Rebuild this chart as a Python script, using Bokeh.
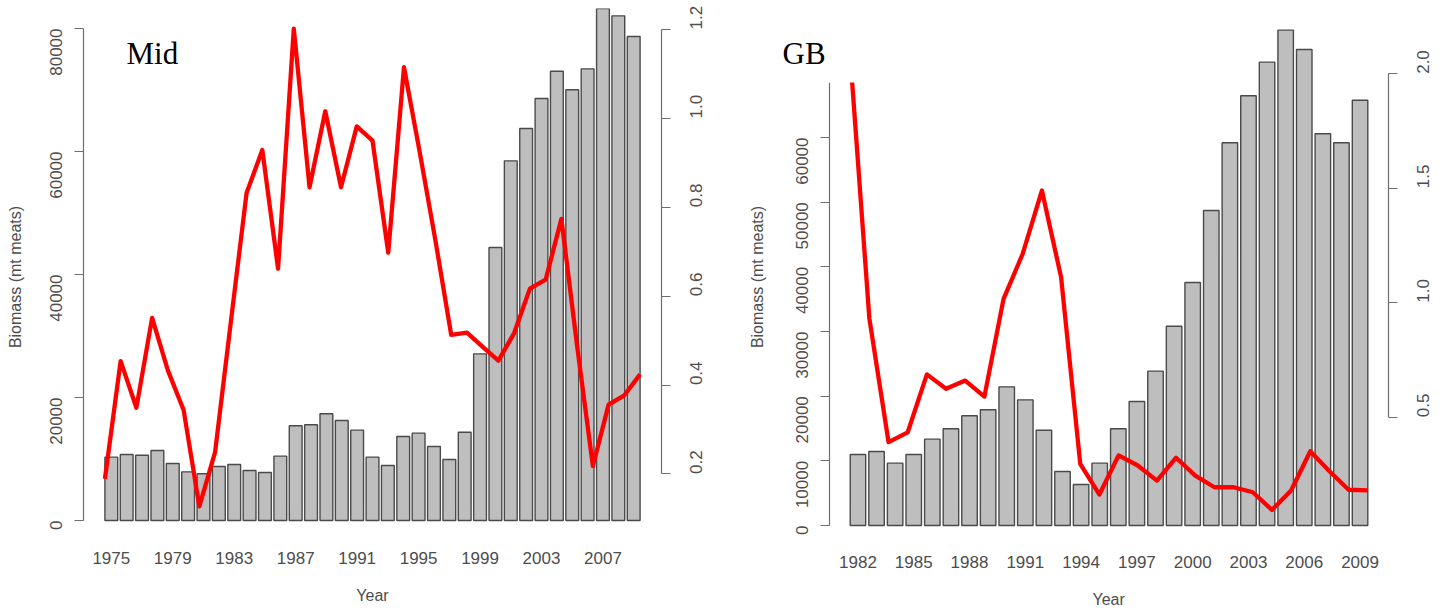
import math
from bokeh.plotting import figure
from bokeh.models import (Range1d, LinearAxis, FixedTicker, Label, BoxAnnotation,
                          PrintfTickFormatter, Title)
from bokeh.layouts import row
from bokeh.embed import file_html
from bokeh.resources import INLINE

# ---------------- data ----------------
mid_years = list(range(1975, 2010))
mid_biomass = [10300, 10730, 10620, 11380, 9270, 7910, 7590, 8780, 9100, 8130,
               7800, 10460, 15400, 15560, 17350, 16260, 14690, 10300, 8940, 13660,
               14200, 12030, 9920, 14360, 27100, 44390, 58480, 63740, 68620, 73060,
               70030, 73440, 83300, 82060, 78700]
mid_ratio = [0.189, 0.454, 0.349, 0.551, 0.433, 0.344, 0.127, 0.249, 0.542, 0.832,
             0.929, 0.662, 1.202, 0.845, 1.016, 0.845, 0.982, 0.950, 0.698, 1.115,
             0.924, 0.725, 0.513, 0.518, 0.486, 0.455, 0.517, 0.617, 0.637, 0.774,
             0.488, 0.218, 0.356, 0.377, 0.424]
mid_year_ticks = list(range(1975, 2010, 4))
mid_biomass_ticks = [0, 20000, 40000, 60000, 80000]
mid_ratio_ticks = [0.2, 0.4, 0.6, 0.8, 1.0, 1.2]

gb_years = list(range(1982, 2010))
gb_biomass = [10980, 11440, 9640, 10980, 13350, 14950, 16960, 17890, 21440, 19430,
              14740, 8350, 6340, 9640, 14950, 19170, 23870, 30820, 37580, 48710,
              59180, 66450, 71650, 76600, 73610, 60570, 59180, 65770]
gb_ratio = [2.08, 0.931, 0.391, 0.434, 0.687, 0.624, 0.660, 0.590, 1.017, 1.214,
            1.490, 1.112, 0.296, 0.162, 0.333, 0.289, 0.223, 0.323, 0.245, 0.194,
            0.194, 0.172, 0.095, 0.180, 0.351, 0.264, 0.183, 0.180]
gb_year_ticks = list(range(1982, 2010, 3))
gb_biomass_ticks = [0, 10000, 20000, 30000, 40000, 50000, 60000]
gb_ratio_ticks = [0.5, 1.0, 1.5, 2.0]
GB_CROP = 68500      # the GB panel is cropped at this biomass level (top-left)

# ---------------- style ----------------
TXT = "#4d4d4d"
AX = "#6e6e6e"
SANS = "Liberation Sans"
SERIF = "Liberation Serif"
BAR_W = 1 / 1.2  # R barplot: width 1, space 0.2
YTITLE = "Biomass (mt meats)"
XTITLE = "Year"


def bar_limits(years):
    n = len(years)
    span = n * 1.2 - 0.2
    pad = 0.04 * span
    return (years[0] + (0.2 - pad - 0.7) / 1.2,
            years[0] + (span + pad - 0.5) / 1.2)


def line_limits(years):
    d = 0.04 * (years[-1] - years[0])
    return (years[0] - d, years[-1] + d)


def widen_left(lims, plot_w, extra_w):
    lo, hi = lims
    return Range1d(lo - (hi - lo) * extra_w / plot_w, hi)


def style_axis(ax):
    ax.axis_line_color = AX
    ax.axis_line_width = 1.2
    ax.major_tick_line_color = AX
    ax.major_tick_line_width = 1.2
    ax.major_tick_out = 9
    ax.major_tick_in = 0
    ax.minor_tick_line_color = None
    ax.major_label_text_font = SANS
    ax.major_label_text_font_size = "17px"
    ax.major_label_text_color = TXT
    ax.axis_label_text_font = SANS
    ax.axis_label_text_font_size = "16px"
    ax.axis_label_text_font_style = "normal"
    ax.axis_label_text_color = TXT


def panel(years, biomass, ratio, year_ticks, bio_ticks, bio_top, ratio_ticks,
          bio_rng, ratio_rng, plot_w, extra_left, border_l, border_r,
          x_standoff, title, title_x):
    blims = bar_limits(years)
    p = figure(frame_width=plot_w + extra_left, frame_height=537,
               x_range=widen_left(blims, plot_w, extra_left),
               y_range=Range1d(*bio_rng),
               output_backend="svg", toolbar_location=None,
               min_border_left=border_l, min_border_right=border_r,
               min_border_top=8, min_border_bottom=20)
    p.outline_line_color = None
    p.xgrid.visible = False
    p.ygrid.visible = False
    p.background_fill_color = "white"
    p.border_fill_color = "white"

    p.extra_x_ranges = {"line": widen_left(line_limits(years), plot_w, extra_left)}
    p.extra_y_ranges = {"ratio": Range1d(*ratio_rng)}

    p.vbar(x=years, top=biomass, bottom=0, width=BAR_W,
           fill_color="#bebebe", line_color="#4a4a4a", line_width=1.4)
    p.line(x=years, y=ratio, x_range_name="line", y_range_name="ratio",
           line_color="#ff0000", line_width=4.3, line_join="round")

    # left axis
    ya = p.yaxis[0]
    style_axis(ya)
    ya.ticker = FixedTicker(ticks=bio_ticks)
    ya.bounds = (0, bio_top)
    ya.major_label_orientation = math.pi / 2
    ya.major_label_standoff = 18

    # right axis
    ra = LinearAxis(y_range_name="ratio", ticker=FixedTicker(ticks=ratio_ticks),
                    formatter=PrintfTickFormatter(format="%.1f"))
    style_axis(ra)
    ra.bounds = (ratio_ticks[0], ratio_ticks[-1])
    ra.major_label_orientation = math.pi / 2
    ra.major_label_standoff = 26
    p.add_layout(ra, "right")

    # bottom axis (labels only)
    xa = p.xaxis[0]
    style_axis(xa)
    xa.ticker = FixedTicker(ticks=year_ticks)
    xa.axis_line_color = None
    xa.major_tick_line_color = None
    xa.major_tick_out = 0
    xa.major_label_standoff = x_standoff

    if extra_left:
        # axis sits inside a widened frame; its titles are placed so that they
        # stay centred on the original plot region
        ya.fixed_location = blims[0]
        ta = LinearAxis(fixed_location=blims[0], ticker=FixedTicker(ticks=[]))
        style_axis(ta)
        ta.axis_line_color = None
        ta.major_tick_line_color = None
        ta.major_tick_out = 0
        ta.major_label_standoff = 0
        ta.axis_label = YTITLE
        ta.axis_label_standoff = 64
        p.add_layout(ta, "left")
        p.add_layout(Title(text=XTITLE, align="left", offset=extra_left + 263,
                           standoff=36, text_font=SANS, text_font_size="16px",
                           text_font_style="normal", text_color=TXT), "below")
    else:
        ya.axis_label = YTITLE
        ya.axis_label_standoff = 18
        xa.axis_label = XTITLE
        xa.axis_label_standoff = 20

    p.add_layout(Label(x=title_x, y=491.6, x_units="screen", y_units="screen",
                       text=title, text_font=SERIF, text_font_size="31px",
                       text_color="black", text_baseline="alphabetic",
                       level="overlay"))
    return p


p1 = panel(mid_years, mid_biomass, mid_ratio, mid_year_ticks, mid_biomass_ticks,
           mid_biomass_ticks[-1], mid_ratio_ticks, (-4065, 83252),
           (0.0391, 1.2472), 578, 0, 83, 79, 6, "Mid", 43)
p2 = panel(gb_years, gb_biomass, gb_ratio, gb_year_ticks, gb_biomass_ticks,
           GB_CROP, gb_ratio_ticks, (-3093, 79948), (-0.0605, 2.2853),
           559, 89, 0, 45, 10, "GB", 42)
# white crop over the top-left corner of the GB panel
p2.add_layout(BoxAnnotation(right=gb_years[0] - 0.08, bottom=GB_CROP,
                            fill_color="white", fill_alpha=1.0,
                            line_color=None, level="annotation"))

layout = row(p1, p2)
open("out.html", "w").write(file_html(layout, INLINE))
